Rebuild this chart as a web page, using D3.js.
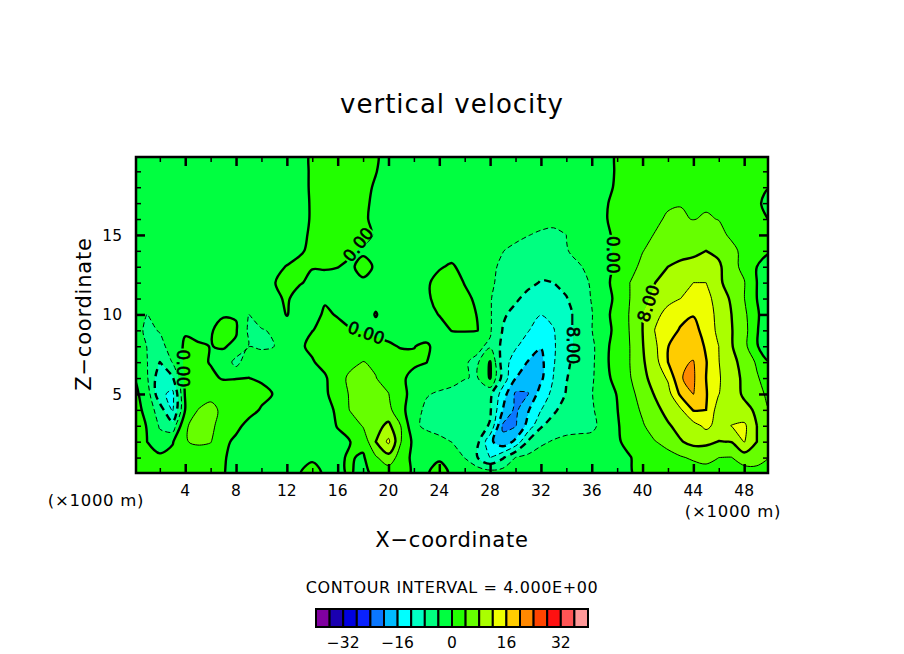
<!DOCTYPE html>
<html>
<head>
<meta charset="utf-8">
<script src="https://cdn.jsdelivr.net/npm/d3@7"></script>
<style>
body { margin: 0; background: #fff; }
text { font-family: "DejaVu Sans", sans-serif; fill: #000; }
</style>
</head>
<body>
<div id="chart"></div>
<script>
// w on a 1 km grid, rows from z = 20 down to z = 0, columns x = 0..50
var velocity = [
[-1,-1,-1,-1,-1,-1,-1,-1,-1,-1,-1,-1,-1,-1,.4,1,1,1,.8,.3,-1,-1,-1,-1,-1,-1,-1,-1,-1,-1,-1,-1,-1,-1,-1,-1,-1,-1,.3,1.5,1.5,1.5,1.5,1.5,1.5,1.5,1.5,1.5,1.5,1.5,1.5],
[-1,-1,-1,-1,-1,-1,-1,-1,-1,-1,-1,-1,-1,-1,.4,1,1,1,.8,.1,-1,-1,-1,-1,-1,-1,-1,-1,-1,-1,-1,-1,-1,-1,-1,-1,-1,-1,.3,1.5,1.5,1.5,1.5,1.5,1.5,1.5,1.5,1.5,1.5,1.5,1.5],
[-1,-1,-1,-1,-1,-1,-1,-1,-1,-1,-1,-1,-1,-1,.4,1,1,1,.7,-.3,-1,-1,-1,-1,-1,-1,-1,-1,-1,-1,-1,-1,-1,-1,-1,-1,-1,-.8,.4,1.5,1.5,1.5,2,2,2,2,1.5,1.5,1.5,1,0],
[-1,-1,-1,-1,-1,-1,-1,-1,-1,-1,-1,-1,-1,-1,.3,1,1,1,.5,-.5,-1,-1,-1,-1,-1,-1,-1,-1,-1,-1,-1,-1.5,-1.5,-1.5,-1.5,-1,-1,-.4,.9,1.5,2,2.5,3.5,3.9,3.7,3.6,3,2.5,2,.5,-1],
[-1,-1,-1,-1,-1,-1,-1,-1,-1,-1,-1,-1,-1,-1,.3,1,1,1,.4,-.6,-1,-1,-1,-1,-1,-1,-1,-1,-1,-1,-1.5,-2.5,-2.8,-3,-2.5,-1.5,-1,-.3,1,1.8,2.5,3.3,4.5,4.3,3.9,4.3,3.9,3,2.3,.6,-.1],
[-1,-1,-1,-1,-1,-1,-1,-1,-1,-1,-1,-1,-1,-.8,.5,1,1,1,.7,-.3,-1,-1,-1,-1,-1,-1,-1,-1,-1,-2,-3,-3.9,-4.5,-4.8,-4,-2.5,-1.5,-.5,.5,2,3,4.2,5,5.5,6,6.3,5,3.4,2.2,1,.3],
[-1,-1,-1,-1,-1,-1,-1,-1,-1,-1,-1,-1,-1,-.3,.5,.8,.7,.3,-.4,-.6,-1,-1,-1,-1,-1,-1,-1,-1.5,-2.5,-3.9,-5,-5.5,-6,-5.5,-4.2,-3,-2,-.8,.5,2.5,3.9,5,6,6.5,7,8,7,5,3,1.5,.1],
[-1,-1,-1,-1,-1,-1,-1,-1,-1,-1,-1,-.6,.1,.6,.1,.2,.05,-.4,.8,-.3,-1,-1,-1,-1,-.2,.3,-.8,-1.5,-3.2,-4.7,-5.8,-6.3,-7,-6.5,-5.5,-4.3,-3,-.8,.5,3,4.7,6.5,8,9,9.5,10,8.8,5,3.2,0,-.7],
[-1,-1,-1,-1,-1,-1,-1,-1,-1,-1,-1,-.1,.9,.2,-.5,-.8,-.9,-1,-.4,-1,-1,-1,-1,-.3,.7,1,-.1,-1,-3.5,-4.9,-6,-7.2,-8.2,-8,-7,-5,-3.7,-.6,.8,4,6,8,9.5,11,12,12,8.4,7,4.2,0,-1],
[-1,-1,-1,-1,-1,-1,-1,-1,-1,-1,-1,-.5,.3,-1,-1,-.3,-1,-1,-1,-.5,-1,-1,-1,-.3,.6,1.2,.5,-.4,-3.8,-5.5,-7.5,-9,-9.5,-9.5,-8.2,-6,-3.8,-1,.6,4,7,8.8,11,12,13.3,13.5,10,7.5,4.1,0,-1],
[-2,-4.05,-2.5,-1.5,-1,-1,-1,-.2,-.2,-4.05,-2,-1,.1,-1,-1,.4,-.2,-1,-.8,.1,-.8,-1,-1,-.8,.1,.9,1,-.1,-3.6,-7.5,-9,-10,-11.9,-11,-9,-7,-4.2,-.6,.8,4.3,8,11,13.2,14.6,15.8,14,10.8,8,5,.2,-1],
[-2,-5,-3.7,-1.5,-.3,-.8,-.2,.8,.3,-4.6,-4.3,-3.5,-1,-1,-.05,.5,.8,.2,-.1,-.5,-.5,-1,-1,-1,-1,.1,.3,.1,-3.6,-8.2,-10,-11.8,-14,-12.2,-9,-7,-4.1,-1,.8,4.2,8,12.2,14,16.5,17.3,14.5,11,8.2,5.5,.1,-1],
[-1.5,-4.1,-5.5,-2,.5,.3,-.05,.2,-.5,-4.1,-4.8,-4,-1.5,-.5,.7,1.5,1.5,2,1.5,.8,.2,-.1,-.05,.3,-.8,-2,-3.5,-3.5,-4.5,-9,-11.5,-14,-15.8,-12.5,-9,-7,-5,-.6,1,4,7.8,11.3,15.9,18,18.5,15.5,12,8.3,5.2,.1,-1],
[-1,-3.9,-8.05,-3.8,.8,.9,-.2,-1,-5.5,-1,-1,-1,-1,-1,-.3,1.2,1.8,3,4.1,3.5,1.8,.6,.3,.05,-2,-3,-3.8,-4.5,.3,-10,-14,-16.2,-17,-12.3,-8.7,-6.5,-4.9,-.5,1,4,7.5,10.5,16,19.5,20.2,16.2,12.1,9.3,6.5,3.5,0],
[-.1,-3.6,-10.5,-8.5,.8,1.2,.7,-.3,-.1,.02,-.3,-1,-1,-1,-1,-.5,2.5,4.8,5.5,4.1,2.5,.3,-.5,-1.5,-2,-3,-3.9,-4.2,.3,-9.5,-15.9,-19,-16.8,-11.8,-8.2,-6,-4.6,-.9,1,3.7,7,9.5,12.5,19.9,20.5,16,12.4,9.5,7.3,4.4,2],
[1,-2,-11,-13,.5,2,3,2.5,1.5,1,.6,-.1,-1,-1,-1,-.5,1.5,4.5,5.8,5.5,4.1,.6,-.7,-3.7,-4.5,-4.8,-5,-6,-7,-14,-20.6,-20.1,-14,-11,-7.7,-5.5,-4.2,-1.2,.1,3,5.4,8.4,10.5,16.8,20.1,16.3,12.1,9.5,7.5,4.8,3.4],
[2,-1.5,-6,-12.5,.1,4.05,5,3.2,1.8,.8,-.2,-1,-1,-1,-1,-1,.5,4.3,5.8,6,5,1.2,-2.5,-4.8,-5.5,-5.7,-5.8,-6,-7.5,-16,-21,-16.3,-12.1,-8.8,-6,-5,-4.5,-2,-.1,2.2,4.6,6.8,9.4,11.5,16.3,16,10,9.5,8.9,7.5,4],
[4.2,-.4,-4.4,-6.5,3.8,4.6,5,2,.6,-.7,-1,-1,-1,-1,-1,-.8,.1,1.5,4.3,6.5,9,3.8,-3,-5,-5.5,-5.5,-5.7,-6.5,-8.3,-20.6,-20.3,-14.5,-8.5,-6,-5.5,-5,-4.8,-2.7,-.3,1.5,3.6,5.8,7.5,9.5,10.5,13,10.5,12.1,12.8,8,4.8],
[3,0,-2.5,-.3,3.8,4.6,4.2,.6,-.5,-1,-1,-1,-1,-1,-1,-1,-.5,0,1.2,8,12.8,4,-1,-1.5,-3,-4.1,-5,-7,-15,-19,-15,-7.5,-4.6,-3.7,-3,-3,-2.8,-2,-.5,1.2,2.6,3.9,5,7.7,9.2,8.8,7.9,8.1,12.2,8,5],
[1.5,.7,.9,1.2,1.5,1.8,1.4,.3,-1,-1,-1,-1,-1,-1,-.2,-1,-.4,.3,-.5,3.5,6.5,2,-1,-1,-.2,-2,-4.1,-7.9,-12.05,-8.5,-3.9,-3,-2.5,-2,-1.8,-1.7,-1.5,-1.2,-.7,-.2,1.5,2.3,3,3.6,4.6,5.5,4,3.9,6,5.9,3.9],
[1,.8,.8,.9,1,1,.8,.1,-.7,-1,-1,-1,-1,-.05,.5,-.2,-.3,.2,-.8,.8,1.5,1,-.4,-.15,.6,-.25,-1,-1.2,-1.8,-1.8,-1.5,-1.3,-1.2,-1.2,-1,-1,-.9,-.8,-.5,-.2,.7,1,1.2,1.5,1.7,1.8,2,2.2,2,2.2,2]
];

// contour levels, one colour per band [level, level + 4)
var levels = [-40,-36,-32,-28,-24,-20,-16,-12,-8,-4,0,4,8,12,16,20,24,28,32,36];
var bandColors = ['#8000a0','#1a00b0','#0000e0','#0a22ff','#0a77ff','#00bbff','#00ffff','#00ffc4','#00ff80','#00ff40','#22ff00','#66ff00','#aaff00','#eeff00','#ffcc00','#ff8800','#ff4400','#ff1111','#ff5555','#ff9999'];

var xMajor = [4,8,12,16,20,24,28,32,36,40,44,48];
var xMinor = [2,6,10,14,18,22,26,30,34,38,42,46];
var zMajor = [5,10,15];
var zMinor = [1,2,3,4,6,7,8,9,11,12,13,14,16,17,18,19];
var legendTicks = [-32,-16,0,16,32];

// labels that sit on the contour lines
var labelText = ['0.00','0.00','0.00','0.00','\u22128.00','8.00'];
var labelX = [3.8,17.6,18.25,37.7,34.55,40.45];
var labelZ = [6.6,14.4,8.85,13.75,8.5,10.7];
var labelAngle = [90,-52,20,90,90,-72];

var width = 904, height = 654;
var plot = { left: 136, right: 768, top: 157, bottom: 473 };

var x = d3.scaleLinear().domain([.125,49.875]).range([plot.left,plot.right]);
var z = d3.scaleLinear().domain([.03,19.9]).range([plot.bottom,plot.top]);
var legendX = d3.scaleLinear().domain([-40,40]).range([316,588]);

var svg = d3.select('#chart').append('svg')
    .attr('width', width)
    .attr('height', height);

var defs = svg.append('defs');
defs.append('clipPath').attr('id', 'plot-clip').append('rect')
    .attr('x', plot.left).attr('y', plot.top)
    .attr('width', plot.right - plot.left).attr('height', plot.bottom - plot.top);

var nx = velocity[0].length, nz = velocity.length;

// contour grid cell i is centred on i + 0.5; rounded rings instead of the raw polygons
var ringLine = d3.line()
    .x(function(p) { return x(p[0] - .5); })
    .y(function(p) { return z(nz - 1 - (p[1] - .5)); })
    .curve(d3.curveCatmullRomClosed.alpha(.5));

function gridPath(d) {
    var out = '';
    d.coordinates.forEach(function(polygon) {
        polygon.forEach(function(ring) {
            out += ringLine(ring.slice(0, -1));
        });
    });
    return out;
}

var contours = d3.contours()
    .size([nx, nz])
    .thresholds(levels)(d3.merge(velocity));

// labels knock a hole in the lines
var mask = defs.append('mask').attr('id', 'label-gaps').attr('maskUnits', 'userSpaceOnUse')
    .attr('x', 0).attr('y', 0).attr('width', width).attr('height', height);
mask.append('rect').attr('width', width).attr('height', height).attr('fill', '#fff');

var chart = svg.append('g').attr('clip-path', 'url(#plot-clip)');

chart.selectAll('path.band')
    .data(contours)
    .enter().append('path')
    .attr('class', 'band')
    .attr('d', gridPath)
    .attr('fill', function(d, i) { return bandColors[i]; })
    .attr('shape-rendering', 'crispEdges');

var lines = chart.append('g').attr('mask', 'url(#label-gaps)');
lines.selectAll('path.line')
    .data(contours.filter(function(d) { return d.value > -40; }))
    .enter().append('path')
    .attr('class', 'line')
    .attr('d', gridPath)
    .attr('fill', 'none')
    .attr('stroke', '#000')
    .attr('stroke-width', function(d) { return d.value % 8 === 0 ? 2.4 : 1; })
    .attr('stroke-dasharray', function(d) {
        if (d.value >= 0) return null;
        return d.value % 8 === 0 ? '7,5' : '5,3';
    });

labelText.forEach(function(t, i) {
    var tf = 'translate(' + x(labelX[i]) + ',' + z(labelZ[i]) + ') rotate(' + labelAngle[i] + ')';
    var w = t.length * 10;
    mask.append('rect')
        .attr('x', -w / 2).attr('y', -6).attr('width', w).attr('height', 12)
        .attr('transform', tf)
        .attr('fill', '#000');
    svg.append('text')
        .attr('transform', tf)
        .attr('dy', '.36em')
        .attr('text-anchor', 'middle')
        .style('font-size', '17px')
        .style('stroke', '#000')
        .style('stroke-width', '.6px')
        .text(t);
});

// ticks point inward on all four sides
function drawTicks(axis, values, len, weight, at) {
    var g = svg.append('g')
        .attr('transform', at)
        .call(axis.tickValues(values).tickSize(-len).tickFormat(''));
    g.select('.domain').remove();
    g.selectAll('line').attr('stroke', '#000').attr('stroke-width', weight);
}
var atBottom = 'translate(0,' + plot.bottom + ')', atTop = 'translate(0,' + plot.top + ')';
var atLeft = 'translate(' + plot.left + ',0)', atRight = 'translate(' + plot.right + ',0)';
drawTicks(d3.axisBottom(x), xMajor, 9, 2.5, atBottom);
drawTicks(d3.axisBottom(x), xMinor, 5, 1.5, atBottom);
drawTicks(d3.axisTop(x), xMajor, 9, 2.5, atTop);
drawTicks(d3.axisTop(x), xMinor, 5, 1.5, atTop);
drawTicks(d3.axisLeft(z), zMajor, 9, 2.5, atLeft);
drawTicks(d3.axisLeft(z), zMinor, 5, 1.5, atLeft);
drawTicks(d3.axisRight(z), zMajor, 9, 2.5, atRight);
drawTicks(d3.axisRight(z), zMinor, 5, 1.5, atRight);

svg.append('rect')
    .attr('x', plot.left).attr('y', plot.top)
    .attr('width', plot.right - plot.left).attr('height', plot.bottom - plot.top)
    .attr('fill', 'none')
    .attr('stroke', '#000')
    .attr('stroke-width', 2.5);

function label(s, px, py, size, anchor, spacing, rotate) {
    return svg.append('text')
        .attr('transform', 'translate(' + px + ',' + py + ')' + (rotate ? ' rotate(' + rotate + ')' : ''))
        .attr('text-anchor', anchor || 'middle')
        .style('font-size', size + 'px')
        .style('letter-spacing', (spacing || 0) + 'px')
        .text(s);
}

xMajor.forEach(function(v) { label(v, x(v), 496, 15.5); });
zMajor.forEach(function(v) { label(v, 122, z(v) + 6, 15.5, 'end'); });

label('vertical velocity', 452, 113, 26, 'middle', 1);
label('X\u2212coordinate', 452, 547, 21, 'middle', .8);
label('Z\u2212coordinate', 91, 314, 21, 'middle', .8, -90);
label('(\u00d71000 m)', 96, 506, 16.5, 'middle', .7);
label('(\u00d71000 m)', 733, 517, 16.5, 'middle', .7);
label('CONTOUR INTERVAL = 4.000E+00', 452, 593, 16, 'middle', .6);

svg.append('g').selectAll('rect')
    .data(levels)
    .enter().append('rect')
    .attr('x', function(d) { return legendX(d); })
    .attr('y', 609)
    .attr('width', legendX(4) - legendX(0))
    .attr('height', 18)
    .attr('fill', function(d, i) { return bandColors[i]; })
    .attr('stroke', '#000')
    .attr('stroke-width', 2);

legendTicks.forEach(function(v) {
    label(v < 0 ? '\u2212' + (-v) : v, legendX(v), 648, 15.5);
});
</script>
</body>
</html>
